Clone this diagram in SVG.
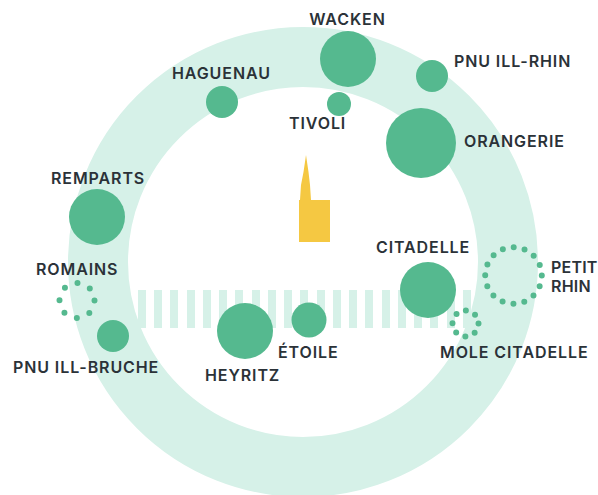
<svg xmlns="http://www.w3.org/2000/svg" width="598" height="495" viewBox="0 0 598 495">
<style>
text{font-family:"Inter","Liberation Sans",sans-serif;font-weight:600;font-size:16px;letter-spacing:.9px;fill:#2b3238}
.n{fill:#55b98f}
.d{fill:none;stroke:#55b98f;stroke-linecap:round;stroke-width:6}
.b{fill:#d6f1e8}
.t{letter-spacing:.2px}
</style>
<rect width="598" height="495" fill="#fff"/>
<circle id="ring" cx="303" cy="262" r="205" fill="none" stroke="#d6f1e8" stroke-width="60"/>
<g id="bars">
<rect class="b" x="138" y="290" width="8" height="38"/><rect class="b" x="154" y="290" width="8" height="38"/><rect class="b" x="170" y="290" width="8" height="38"/><rect class="b" x="187" y="290" width="8" height="38"/><rect class="b" x="203" y="290" width="8" height="38"/><rect class="b" x="219" y="290" width="8" height="38"/><rect class="b" x="235" y="290" width="8" height="38"/><rect class="b" x="252" y="290" width="8" height="38"/><rect class="b" x="268" y="290" width="8" height="38"/><rect class="b" x="284" y="290" width="8" height="38"/><rect class="b" x="300" y="290" width="8" height="38"/><rect class="b" x="317" y="290" width="8" height="38"/><rect class="b" x="333" y="290" width="8" height="38"/><rect class="b" x="349" y="290" width="8" height="38"/><rect class="b" x="365" y="290" width="8" height="38"/><rect class="b" x="382" y="290" width="8" height="38"/><rect class="b" x="398" y="290" width="8" height="38"/><rect class="b" x="414" y="290" width="8" height="38"/><rect class="b" x="430" y="290" width="8" height="38"/><rect class="b" x="447" y="290" width="8" height="38"/><rect class="b" x="463" y="290" width="8" height="38"/>
</g>
<path id="cathedral" d="M306 155 L308.500 172 L310 185 L311 200 L330 200 L330 242 L299 242 L299 200 L300 200 L301 185 L303.500 172 Z" fill="#f5c842"/>
<g id="connectors"/>
<g id="wacken"><circle class="n" cx="348" cy="59" r="28"/><text x="347.500" y="25" text-anchor="middle">WACKEN</text></g>
<g id="pnu-ill-rhin"><circle class="n" cx="432" cy="76" r="16"/><text x="454" y="67">PNU ILL-RHIN</text></g>
<g id="haguenau"><circle class="n" cx="222" cy="102" r="16"/><text x="172" y="79">HAGUENAU</text></g>
<g id="tivoli"><circle class="n" cx="339" cy="104" r="12"/><text x="289" y="129">TIVOLI</text></g>
<g id="orangerie"><circle class="n" cx="421" cy="143" r="35"/><text x="464" y="147">ORANGERIE</text></g>
<g id="remparts"><circle class="n" cx="97" cy="217" r="28"/><text x="51" y="184">REMPARTS</text></g>
<g id="romains"><circle class="d" cx="77" cy="300.500" r="17.500" stroke-dasharray="0 13.740"/><text x="36" y="275">ROMAINS</text></g>
<g id="pnu-ill-bruche"><circle class="n" cx="113" cy="336" r="16"/><text x="13" y="373">PNU ILL-BRUCHE</text></g>
<g id="heyritz"><circle class="n" cx="245" cy="331" r="28"/><text x="205" y="381">HEYRITZ</text></g>
<g id="etoile"><circle class="n" cx="309" cy="320" r="17.500"/><text x="278" y="358">ÉTOILE</text></g>
<g id="citadelle"><circle class="n" cx="428" cy="290" r="28"/><text x="376" y="253">CITADELLE</text></g>
<g id="mole-citadelle"><circle class="d" cx="465.500" cy="323.500" r="13" stroke-dasharray="0 10.210"/><text x="440" y="358">MOLE CITADELLE</text></g>
<g id="petit-rhin"><circle class="d" cx="513.500" cy="275.500" r="28.300" stroke-dasharray="0 11.113"/><text class="t" x="551" y="273">PETIT</text><text class="t" x="551" y="292">RHIN</text></g>
</svg>
